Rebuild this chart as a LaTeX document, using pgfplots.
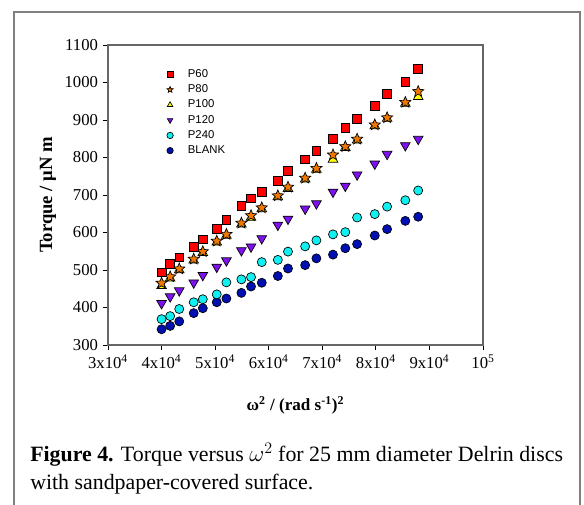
\documentclass[border=0pt]{standalone}
\usepackage{pgfplots}
\usepackage{pgfplotstable}
\pgfplotsset{compat=1.18}
\usepackage{fontspec}
\setmainfont{Liberation Serif}
\newfontfamily\arial{Liberation Sans}

% filled five-pointed star
\pgfdeclareplotmark{fstar}{%
  \pgfpathmoveto{\pgfpointpolar{90}{\pgfplotmarksize}}%
  \pgfpathlineto{\pgfpointpolar{126}{0.45\pgfplotmarksize}}%
  \pgfpathlineto{\pgfpointpolar{162}{\pgfplotmarksize}}%
  \pgfpathlineto{\pgfpointpolar{198}{0.45\pgfplotmarksize}}%
  \pgfpathlineto{\pgfpointpolar{234}{\pgfplotmarksize}}%
  \pgfpathlineto{\pgfpointpolar{270}{0.45\pgfplotmarksize}}%
  \pgfpathlineto{\pgfpointpolar{306}{\pgfplotmarksize}}%
  \pgfpathlineto{\pgfpointpolar{342}{0.45\pgfplotmarksize}}%
  \pgfpathlineto{\pgfpointpolar{18}{\pgfplotmarksize}}%
  \pgfpathlineto{\pgfpointpolar{54}{0.45\pgfplotmarksize}}%
  \pgfpathclose
  \pgfusepathqfillstroke
}

\definecolor{cP60}{HTML}{FF0000}
\definecolor{cP80}{HTML}{F07800}
\definecolor{cP100}{HTML}{FFFF00}
\definecolor{cP120}{HTML}{8010F0}
\definecolor{cP240}{HTML}{10F0F0}
\definecolor{cBLANK}{HTML}{0010B0}

\pgfplotstableread{
x      p60  p80  p100 p120 p240 blank
40000  494  465  458  411  369  342
41600  516  482  478  429  377  351
43300  534  503  500  445  396  363
46000  562  529  526  466  414  385
47700  582  549  546  486  422  398
50300  609  577  574  508  435  414
52100  634  595  592  525  467  424
54900  671  625  622  552  475  439
56700  691  645  640  562  481  456
58700  709  666  663  584  521  466
61700  738  698  695  620  527  484
63600  765  721  717  636  549  504
66800  795  745  742  663  563  513
68900  817  771  768  677  579  531
72000  849  807  795  708  595  541
74300  880  829  826  724  601  558
76500  904  849  846  754  640  569
79800  937  887  884  783  649  592
82100  969  906  904  809  669  609
85500  1001 947  944  832  686  631
87900  1036 976  962  849  712  642
}\torque

\begin{document}
\begin{tikzpicture}
% 1 px of the reference = 0.75pt, origin at the top left corner
\path[use as bounding box] (0pt,0pt) rectangle (438pt,-378.75pt);
\begin{scope}[x=0.75pt,y=-0.75pt]
\draw[black!50, line width=1.3pt] (14,520) -- (14,12) -- (580,12) -- (580,520);
\node[anchor=north west, align=left, font=\fontsize{16.4}{20.3}\selectfont, inner sep=0pt]
  at (30,443) {\textbf{Figure 4.} Torque versus $\omega^2$ for 25 mm diameter Delrin discs\\with sandpaper-covered surface.};
\end{scope}

\begin{axis}[
    at={(81pt,-258.75pt)}, anchor=south west,
    scale only axis,
    width=281.25pt, height=225pt,
    xmin=30000, xmax=100000,
    ymin=300, ymax=1100,
    xtick={30000,40000,...,100000},
    xticklabels={3x10\textsuperscript{4},4x10\textsuperscript{4},5x10\textsuperscript{4},6x10\textsuperscript{4},7x10\textsuperscript{4},8x10\textsuperscript{4},9x10\textsuperscript{4},10\textsuperscript{5}},
    ytick={300,400,...,1100},
    scaled x ticks=false,
    /pgf/number format/assume math mode=true,
    yticklabel style={/pgf/number format/1000 sep={}},
    tick align=outside,
    xtick pos=bottom, ytick pos=left,
    major tick length=4pt,
    tick style={black, line width=0.6pt},
    axis line style={black!60, line width=0.8pt},
    tick label style={font=\fontsize{12.5}{14}\selectfont},
    xlabel={\textbf{ω\textsuperscript{2} / (rad s\textsuperscript{-1})\textsuperscript{2}}},
    ylabel={\textbf{Torque / μN m}},
    xlabel style={font=\fontsize{12.8}{14}\selectfont, at={(axis description cs:0.5,-0.2)}, anchor=center},
    ylabel style={font=\fontsize{14}{16}\selectfont, at={(axis description cs:-0.16,0.5)}, anchor=center},
    legend style={at={(axis description cs:0.139,0.937)}, anchor=north west,
        draw=none, fill=none, font=\arial\fontsize{8.5}{10}\selectfont,
        row sep=0pt},
    legend cell align=left,
    legend image code/.code={%
        \path[draw=none, fill=none] (0cm,0cm) (0.55cm,0cm);
        \draw[#1, mark size=2.4pt] plot coordinates {(0.15cm,0cm)};},
    every axis plot/.append style={only marks, line width=0.5pt},
]
\addlegendimage{only marks, mark=square*, mark options={fill=cP60, draw=black}}
\addlegendentry{P60}
\addlegendimage{only marks, mark=fstar, mark options={fill=cP80, draw=black}}
\addlegendentry{P80}
\addlegendimage{only marks, mark=triangle*, mark options={fill=cP100, draw=black}}
\addlegendentry{P100}
\addlegendimage{only marks, mark=triangle*, mark options={fill=cP120, draw=black, rotate=180}}
\addlegendentry{P120}
\addlegendimage{only marks, mark=*, mark options={fill=cP240, draw=black}}
\addlegendentry{P240}
\addlegendimage{only marks, mark=*, mark options={fill=cBLANK, draw=black}}
\addlegendentry{BLANK}

\addplot[forget plot, mark=*, mark size=3.4pt, mark options={fill=cBLANK, draw=black}] table[x=x, y=blank] {\torque};
\addplot[forget plot, mark=*, mark size=3.4pt, mark options={fill=cP240, draw=black}] table[x=x, y=p240] {\torque};
\addplot[forget plot, mark=triangle*, mark size=4.2pt, mark options={fill=cP120, draw=black, rotate=180}] table[x=x, y=p120] {\torque};
\addplot[forget plot, mark=triangle*, mark size=4.2pt, mark options={fill=cP100, draw=black}] table[x=x, y=p100] {\torque};
\addplot[forget plot, mark=fstar, mark size=4.4pt, mark options={fill=cP80, draw=black}] table[x=x, y=p80] {\torque};
\addplot[forget plot, mark=square*, mark size=3.3pt, mark options={fill=cP60, draw=black}] table[x=x, y=p60] {\torque};
\end{axis}
\end{tikzpicture}
\end{document}
